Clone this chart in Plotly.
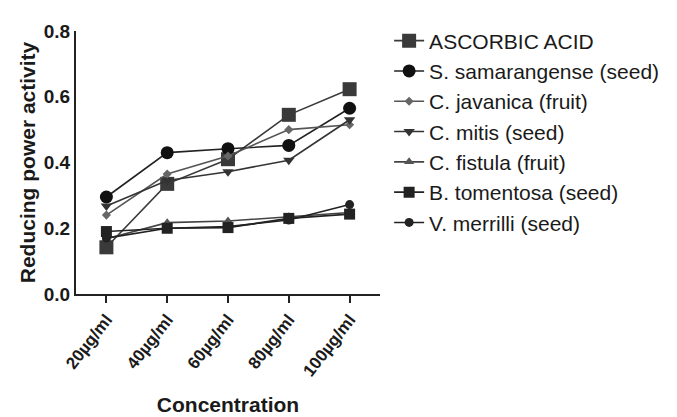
import plotly.graph_objects as go

categories = ["20µg/ml", "40µg/ml", "60µg/ml", "80µg/ml", "100µg/ml"]

ascorbic_acid = [0.142, 0.335, 0.410, 0.545, 0.623]
s_samarangense = [0.295, 0.430, 0.442, 0.452, 0.565]
c_javanica = [0.240, 0.365, 0.420, 0.500, 0.515]
c_mitis = [0.268, 0.345, 0.372, 0.407, 0.530]
c_fistula = [0.168, 0.217, 0.222, 0.235, 0.248]
b_tomentosa = [0.190, 0.200, 0.202, 0.230, 0.243]
v_merrilli = [0.170, 0.200, 0.205, 0.225, 0.272]

series = [
    ("ASCORBIC ACID", ascorbic_acid, "square", 14, "#3a3a3a", "#3a3a3a"),
    ("S. samarangense (seed)", s_samarangense, "circle", 13, "#111111", "#222222"),
    ("C. javanica (fruit)", c_javanica, "diamond", 7, "#666666", "#555555"),
    ("C. mitis (seed)", c_mitis, "triangle-down", 10, "#333333", "#333333"),
    ("C. fistula (fruit)", c_fistula, "triangle-up", 9, "#555555", "#444444"),
    ("B. tomentosa (seed)", b_tomentosa, "square", 11, "#222222", "#222222"),
    ("V. merrilli (seed)", v_merrilli, "circle", 9, "#222222", "#222222"),
]

font_family = "Arial, Liberation Sans, sans-serif"

fig = go.Figure()
for name, vals, sym, size, mcol, lcol in series:
    fig.add_trace(go.Scatter(
        x=categories, y=vals, name=name, mode="lines+markers",
        line=dict(color=lcol, width=1.6),
        marker=dict(symbol=sym, size=size, color=mcol, line=dict(width=0)),
    ))

fig.update_layout(
    width=677, height=417,
    paper_bgcolor="white", plot_bgcolor="white",
    margin=dict(l=68, r=305, t=22, b=124),
    font=dict(family=font_family, color="#1a1a1a"),
    legend=dict(
        x=1.03, y=1.04, xanchor="left", yanchor="top",
        font=dict(size=21, family=font_family, color="#1a1a1a"),
        itemwidth=30, bgcolor="rgba(0,0,0,0)", maxheight=400,
    ),
    xaxis=dict(
        type="category", range=[-0.5, 4.5],
        showline=True, linecolor="#222222", linewidth=2,
        ticks="outside", ticklen=7, tickwidth=2, tickcolor="#222222",
        tickangle=-52, showgrid=False, zeroline=False,
        tickfont=dict(size=17, family=font_family, weight="bold", color="#1a1a1a"),
        title=dict(text="<b>Concentration</b>", font=dict(size=21, family=font_family), standoff=18),
    ),
    yaxis=dict(
        range=[0, 0.8], tickvals=[0, 0.2, 0.4, 0.6, 0.8],
        ticktext=["0.0", "0.2", "0.4", "0.6", "0.8"],
        showline=True, linecolor="#222222", linewidth=2,
        ticks="", ticklen=0,
        showgrid=False, zeroline=False,
        tickfont=dict(size=19, family=font_family, weight="bold", color="#1a1a1a"),
        title=dict(text="<b>Reducing power activity</b>", font=dict(size=21, family=font_family), standoff=2),
    ),
)

fig.write_html("out.html")
